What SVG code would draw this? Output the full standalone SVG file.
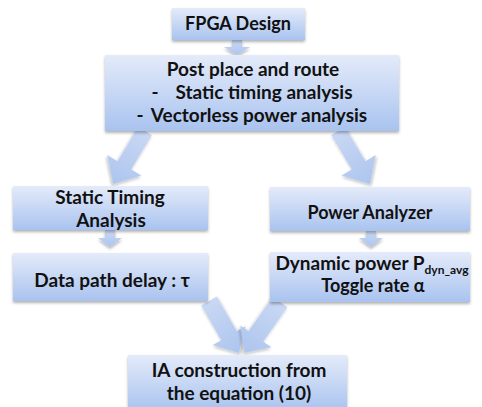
<svg xmlns="http://www.w3.org/2000/svg" width="482" height="407" viewBox="0 0 482 407">
<defs>
<linearGradient id="boxg" x1="0" y1="0" x2="0" y2="1">
<stop offset="0" stop-color="#e4ebfa"/>
<stop offset="1" stop-color="#a9c3ef"/>
</linearGradient>
<linearGradient id="arrg" x1="0" y1="0" x2="0" y2="1">
<stop offset="0" stop-color="#c9d8f4"/>
<stop offset="1" stop-color="#adc5ee"/>
</linearGradient>
<filter id="sh" x="-10%" y="-20%" width="120%" height="150%">
<feDropShadow dx="0" dy="2" stdDeviation="1.8" flood-color="#000" flood-opacity="0.3"/>
</filter>
</defs>
<style>
.box{fill:url(#boxg);filter:url(#sh);}
.arr{fill:url(#arrg);filter:url(#sh);}
text{font-family:Lato,"Liberation Sans",Arial,sans-serif;font-weight:bold;font-size:19px;fill:#111;text-anchor:middle;}
.s18{font-size:18px;}
.sub{font-size:12px;}
</style>
<rect width="482" height="407" fill="#fff"/>
<g id="connectors">
<polygon class="arr" transform="translate(237,40)" points="-5,0 5,0 5,7 13,7 0,15 -13,7 -5,7"/>
<polygon class="arr" transform="translate(110,230)" points="-5,0 5,0 5,8 12,8 0,17 -12,8 -5,8"/>
<polygon class="arr" transform="translate(371,231)" points="-5,0 5,0 5,7 12,7 0,16 -12,7 -5,7"/>
<polygon class="arr" transform="translate(145,131) rotate(31)" points="-8,0 8,0 8,40 20,40 0,62 -20,40 -8,40"/>
<polygon class="arr" transform="translate(338,131) rotate(-31)" points="-8,0 8,0 8,40 20,40 0,62 -20,40 -8,40"/>
<polygon class="arr" transform="translate(209,301) rotate(-30)" points="-9,0 9,0 9,40 19,40 0,60 -19,40 -9,40"/>
<polygon class="arr" transform="translate(280,302) rotate(35)" points="-9,0 9,0 9,42 19,42 0,62 -19,42 -9,42"/>
</g>
<g id="fpga">
<rect class="box" x="172" y="8" width="133" height="32"/>
<text class="s18" x="238" y="30">FPGA Design</text>
</g>
<g id="post">
<rect class="box" x="105" y="55" width="294" height="76"/>
<text x="253" y="76">Post place and route</text>
<text x="155" y="99">-</text>
<text x="264" y="99">Static timing analysis</text>
<text x="140" y="122">-</text>
<text x="259" y="122">Vectorless power analysis</text>
</g>
<g id="sta">
<rect class="box" x="13" y="186" width="195" height="44"/>
<text x="110" y="204">Static Timing</text>
<text x="111" y="227">Analysis</text>
</g>
<g id="power">
<rect class="box" x="270" y="187" width="200" height="44"/>
<text class="s18" x="370" y="219">Power Analyzer</text>
</g>
<g id="delay">
<rect class="box" x="13" y="253" width="195" height="48"/>
<text x="112" y="287">Data path delay : τ</text>
</g>
<g id="dynamic">
<rect class="box" x="270" y="252" width="200" height="50"/>
<text x="372" y="270">Dynamic power P<tspan class="sub" dy="4">dyn_avg</tspan></text>
<text class="s18" x="373" y="292">Toggle rate α</text>
</g>
<g id="ia">
<rect class="box" x="128" y="355" width="219" height="56"/>
<text x="239" y="377">IA construction from</text>
<text x="239" y="400">the equation (10)</text>
</g>
</svg>
